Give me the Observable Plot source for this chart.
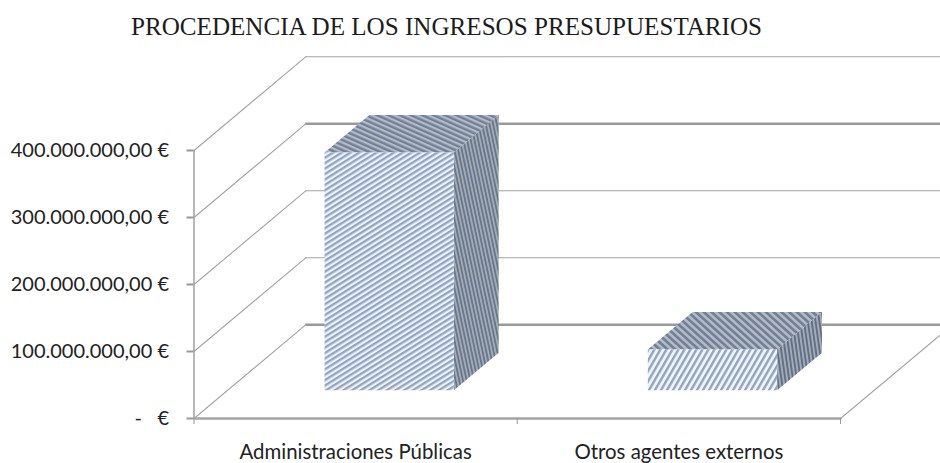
<!DOCTYPE html>
<html><head><meta charset="utf-8">
<script src="https://cdn.jsdelivr.net/npm/d3@7"></script>
<script src="https://cdn.jsdelivr.net/npm/@observablehq/plot@0.6"></script>
<style>
html,body{margin:0;padding:0;background:#fff;overflow:hidden}
#title{height:44px;box-sizing:border-box;padding:13px 0 0 131px;font:25.1px/28px "Liberation Serif",serif;color:#1c1c1c;white-space:nowrap}
</style></head><body>
<div id="title">PROCEDENCIA DE LOS INGRESOS PRESUPUESTARIOS</div>
<div id="chart"></div>
<script>
const categories = ["Administraciones Públicas", "Otros agentes externos"];
const values = [355000000, 61000000];
const yTicks = [0, 100000000, 200000000, 300000000, 400000000];
const thickLevels = [0, 300000000];
const depthX = 0.3465, depthY = 140000000;
const barStart = 0.3, barEnd = 0.7;

const proj = (c, v, z) => ({x: c + z * depthX, y: v + z * depthY});
const faces = (i, v) => {
  const a = i + barStart, b = i + barEnd;
  const poly = (face, pts) => ({id: face, pts: pts.map(p => proj(...p))});
  return [
    poly("top" + i, [[a,v,barStart],[b,v,barStart],[b,v,barEnd],[a,v,barEnd]]),
    poly("side" + i, [[b,0,barStart],[b,0,barEnd],[b,v,barEnd],[b,v,barStart]]),
    poly("front" + i, [[a,0,barStart],[b,0,barStart],[b,v,barStart],[a,v,barStart]])
  ];
};
const barFaces = values.flatMap((v, i) => faces(i, v));

const diagonals = yTicks.map(v => [proj(0, v, 0), proj(0, v, 1)]);
const backLevels = yTicks.map(v => [proj(0, v, 1), proj(2, v, 1)]);
const floorRight = [proj(2, 0, 0), proj(2, 0, 1)];
const floorFront = [proj(0, 0, 0), proj(2, 0, 0)];
const axisLine = [proj(0, 0, 0), proj(0, yTicks[4], 0)];

const fmt = v => v === 0 ? "-\u00a0\u00a0\u00a0€"
  : d3.format(",.2f")(v).replace(/,/g, "#").replace(".", ",").replace(/#/g, ".") + "\u00a0€";

const defs = () => {
  const ns = "http://www.w3.org/2000/svg";
  const d = document.createElementNS(ns, "defs");
  const pat = (id, w, rot, bg, fg, frac) => `<pattern id="${id}" width="${w}" height="${w}" patternUnits="userSpaceOnUse" patternTransform="rotate(${rot})"><rect width="${w}" height="${w}" fill="${bg}"/><rect width="${w * frac}" height="${w}" fill="${fg}"/></pattern>`;
  d.innerHTML =
    pat("front0", 4.6, 58, "#eef2f7", "#8fa5c2", 0.5) +
    pat("front1", 5.2, 30, "#f1f4f8", "#8fa5c2", 0.46) +
    pat("top0", 4.6, -66, "#b7bcc4", "#6f8099", 0.52) +
    pat("top1", 5.2, -48, "#b7bcc4", "#6f8099", 0.52) +
    pat("side0", 3.6, -12, "#a4abb5", "#67778d", 0.5) +
    pat("side1", 3.8, -8, "#a4abb5", "#5f7088", 0.5);
  return d;
};

const thin = {x: "x", y: "y", stroke: "#a3a3a3", strokeWidth: 1.1};

const fig = Plot.plot({
  width: 940, height: 419,
  marginLeft: 193.5, marginRight: 100, marginTop: 106, marginBottom: 45,
  style: {background: "#fff"},
  x: {type: "linear", domain: [0, 2]},
  y: {type: "linear", domain: [0, 400000000]},
  marks: [
    defs,
    ...backLevels.map((l, i) => Plot.line(l, thickLevels.includes(yTicks[i])
      ? {x: "x", y: "y", stroke: "#9a9a9a", strokeWidth: 2.4} : thin)),
    ...diagonals.map(l => Plot.line(l, thin)),
    Plot.line(floorRight, thin),
    Plot.line(axisLine, {x: "x", y: "y", stroke: "#a0a0a0", strokeWidth: 1.5}),
    Plot.line(floorFront, {x: "x", y: "y", stroke: "#a5a5a5", strokeWidth: 2.4}),
    Plot.axisY({ticks: yTicks, tickFormat: fmt, tickSize: 7, tickPadding: 18, stroke: "#999", strokeWidth: 2, anchor: "left",
      fontSize: 20, fontFamily: "Lato", fill: "#222", label: null}),
    Plot.axisX({ticks: [0, 1, 2], tickFormat: () => "", tickSize: 6, stroke: "#999", anchor: "bottom", label: null}),
    Plot.axisX({ticks: [0.5, 1.5], tickFormat: d => categories[Math.floor(d)], tickSize: 0, tickPadding: 26,
      anchor: "bottom", label: null, fontSize: 20.4, fontFamily: "Lato", fill: "#222"}),
    ...barFaces.map(f => Plot.line(f.pts, {x: "x", y: "y", fill: `url(#${f.id})`, stroke: null}))
  ]
});
document.getElementById("chart").append(fig);
</script>
</body></html>
